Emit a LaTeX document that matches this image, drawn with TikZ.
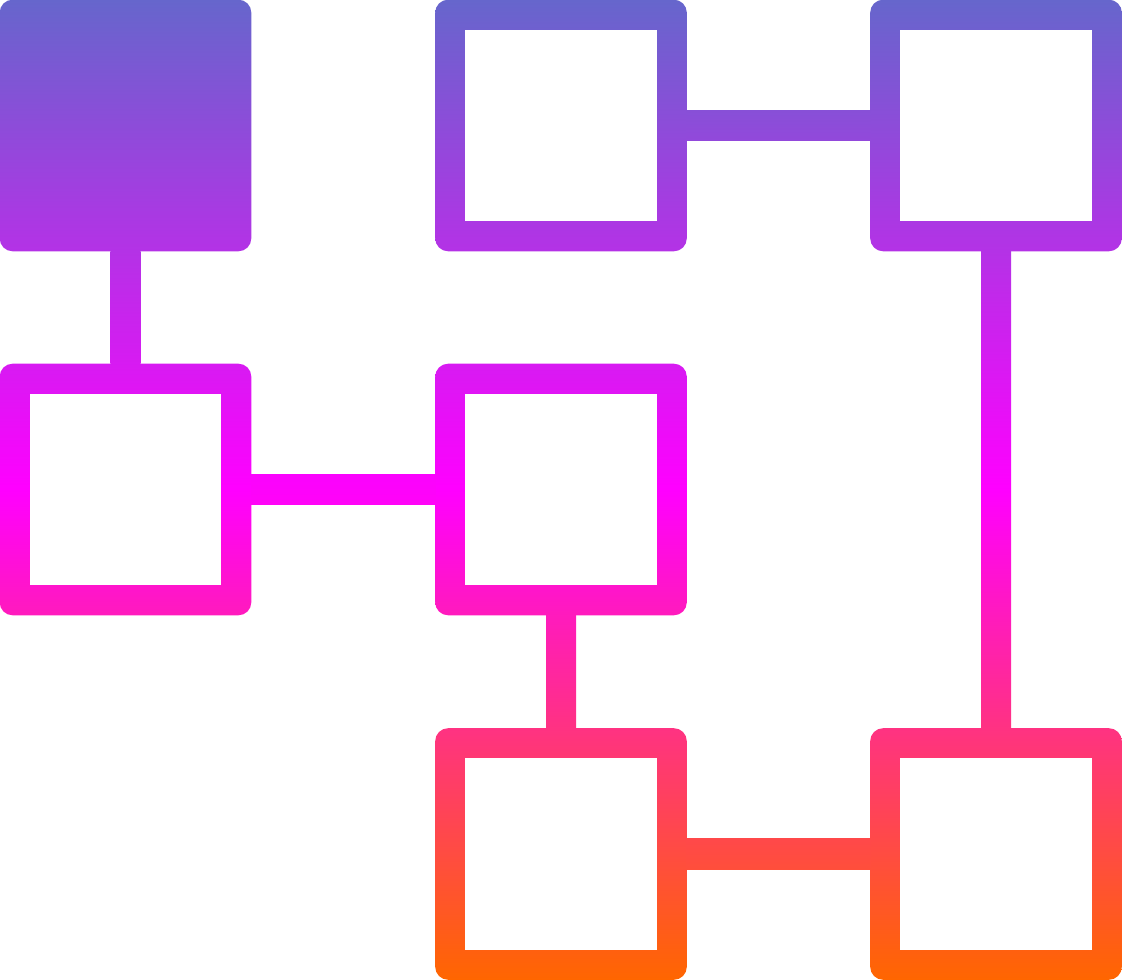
\documentclass[tikz,border=0pt]{standalone}
\usepackage{tikz}
\usetikzlibrary{positioning}
\definecolor{gtop}{HTML}{6666CC}
\definecolor{gmid}{HTML}{FF00FF}
\definecolor{gbot}{HTML}{FF6600}
% colours of the vertical gradient at given heights
\colorlet{g110}{gmid!22!gtop}
\colorlet{g140}{gmid!29!gtop}
\colorlet{g251}{gmid!51!gtop}
\colorlet{g364}{gmid!74!gtop}
\colorlet{g475}{gmid!97!gtop}
\colorlet{g505}{gbot!3!gmid}
\colorlet{g615}{gbot!26!gmid}
\colorlet{g728}{gbot!49!gmid}
\colorlet{g838}{gbot!71!gmid}
\colorlet{g868}{gbot!77!gmid}
\newcommand\W{2.515cm}

\begin{document}
\begin{tikzpicture}[x=0.01cm,y=-0.01cm,
                    box/.style={rectangle,inner sep=0pt,minimum size=\W,
                                rounded corners=0.13cm},
                    hole/.style={rectangle,inner sep=0pt,minimum size=1.915cm,fill=white}]

  \useasboundingbox (0,0) rectangle (1122,980);

  \node[box,top color=gtop,bottom color=g251] (TL) at (125.5,125.5) {};
  \node[box,top color=gtop,bottom color=g251] (TM) at (561,125.5) {};
  \node[box,top color=gtop,bottom color=g251] (TR) at (996,125.5) {};

  \node[box,top color=g364,bottom color=g615,middle color=gmid] (ML) at (125.5,489.5) {};
  \node[box,top color=g364,bottom color=g615,middle color=gmid] (MM) at (561,489.5) {};

  \node[box,top color=g728,bottom color=gbot] (BM) at (561,854) {};
  \node[box,top color=g728,bottom color=gbot] (BR) at (996,854) {};

  \node[hole] (TMh) at (TM) {};  \node[hole] (TRh) at (TR) {};
  \node[hole] (MLh) at (ML) {};  \node[hole] (MMh) at (MM) {};
  \node[hole] (BMh) at (BM) {};  \node[hole] (BRh) at (BR) {};

  % links
  \shade[top color=g251,bottom color=g364]
    ([xshift=-0.15cm,yshift=0.01cm]TL.south) rectangle ([xshift=0.15cm,yshift=-0.01cm]ML.north);
  \shade[top color=g110,bottom color=g140]
    ([xshift=-0.01cm,yshift=0.15cm]TM.east) rectangle ([xshift=0.01cm,yshift=-0.15cm]TR.west);
  \shade[top color=g475,bottom color=g505]
    ([xshift=-0.01cm,yshift=0.15cm]ML.east) rectangle ([xshift=0.01cm,yshift=-0.15cm]MM.west);
  \shade[top color=g615,bottom color=g728]
    ([xshift=-0.15cm,yshift=0.01cm]MM.south) rectangle ([xshift=0.15cm,yshift=-0.01cm]BM.north);
  \shade[top color=g838,bottom color=g868]
    ([xshift=-0.01cm,yshift=0.15cm]BM.east) rectangle ([xshift=0.01cm,yshift=-0.15cm]BR.west);
  \shade[top color=g251,bottom color=g728,middle color=gmid]
    ([xshift=-0.15cm,yshift=0.01cm]TR.south) rectangle ([xshift=0.15cm,yshift=-0.01cm]BR.north);

\end{tikzpicture}
\end{document}
